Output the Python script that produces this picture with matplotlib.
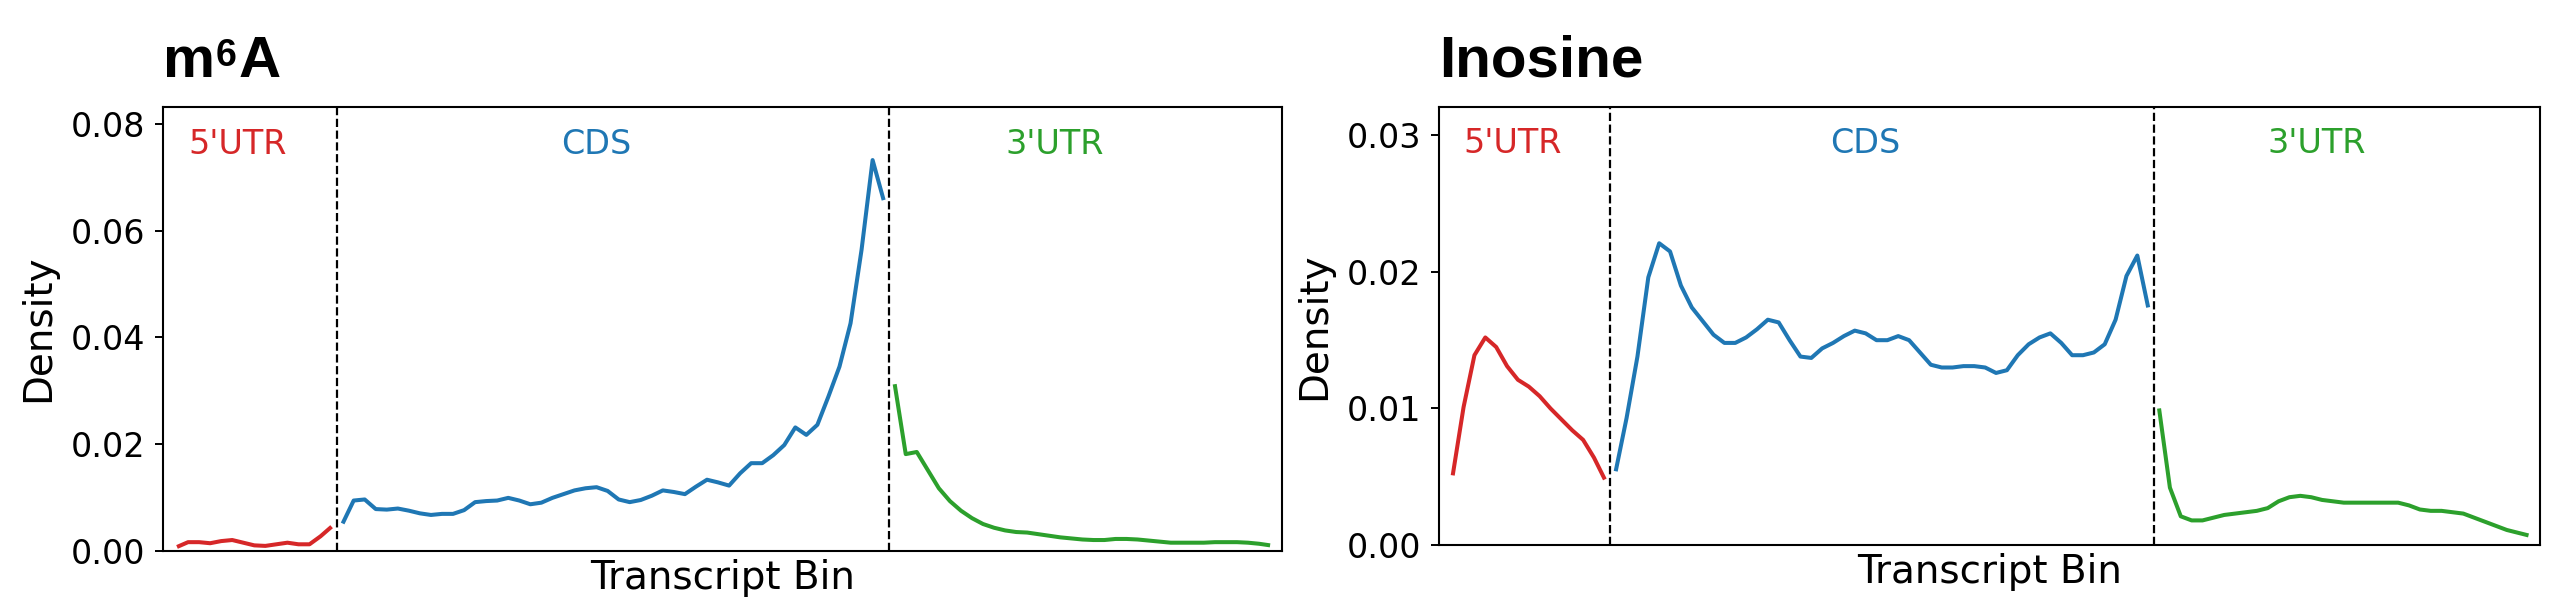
import numpy as np
import matplotlib
matplotlib.use("Agg")
import matplotlib.pyplot as plt

# metagene density, 100 bins: 15 x 5'UTR, 50 x CDS, 35 x 3'UTR
n_utr5, n_cds, n_utr3 = 15, 50, 35

m6a_utr5 = [0.0007, 0.0016, 0.0016, 0.0014, 0.0018, 0.0020, 0.0015, 0.0010,
            0.0009, 0.0012, 0.0015, 0.0012, 0.0012, 0.0027, 0.0045]
m6a_cds = [0.0051, 0.0094, 0.0096, 0.0078, 0.0077, 0.0079, 0.0075, 0.0070, 0.0067, 0.0069,
           0.0069, 0.0076, 0.0091, 0.0093, 0.0094, 0.0099, 0.0094, 0.0087, 0.0090, 0.0099,
           0.0106, 0.0113, 0.0117, 0.0119, 0.0112, 0.0096, 0.0091, 0.0095, 0.0103, 0.0113,
           0.0110, 0.0106, 0.0120, 0.0133, 0.0128, 0.0122, 0.0145, 0.0164, 0.0164, 0.0179,
           0.0198, 0.0231, 0.0217, 0.0236, 0.0289, 0.0345, 0.0426, 0.0564, 0.0732, 0.0657]
m6a_utr3 = [0.0312, 0.0181, 0.0185, 0.0151, 0.0117, 0.0093, 0.0075, 0.0061, 0.0050, 0.0043,
            0.0038, 0.0035, 0.0034, 0.0031, 0.0028, 0.0025, 0.0023, 0.0021, 0.0020, 0.0020,
            0.0022, 0.0022, 0.0021, 0.0019, 0.0017, 0.0015, 0.0015, 0.0015, 0.0015, 0.0016,
            0.0016, 0.0016, 0.0015, 0.0013, 0.0010]

ino_utr5 = [0.0051, 0.0101, 0.0139, 0.0152, 0.0145, 0.0131, 0.0121, 0.0116,
            0.0109, 0.0100, 0.0092, 0.0084, 0.0077, 0.0064, 0.0048]
ino_cds = [0.0054, 0.0093, 0.0138, 0.0196, 0.0221, 0.0215, 0.0190, 0.0174, 0.0164, 0.0154,
           0.0148, 0.0148, 0.0152, 0.0158, 0.0165, 0.0163, 0.0150, 0.0138, 0.0137, 0.0144,
           0.0148, 0.0153, 0.0157, 0.0155, 0.0150, 0.0150, 0.0153, 0.0150, 0.0141, 0.0132,
           0.0130, 0.0130, 0.0131, 0.0131, 0.0130, 0.0126, 0.0128, 0.0139, 0.0147, 0.0152,
           0.0155, 0.0148, 0.0139, 0.0139, 0.0141, 0.0147, 0.0165, 0.0197, 0.0212, 0.0174]
ino_utr3 = [0.0100, 0.0042, 0.0021, 0.0018, 0.0018, 0.0020, 0.0022, 0.0023, 0.0024, 0.0025,
            0.0027, 0.0032, 0.0035, 0.0036, 0.0035, 0.0033, 0.0032, 0.0031, 0.0031, 0.0031,
            0.0031, 0.0031, 0.0031, 0.0029, 0.0026, 0.0025, 0.0025, 0.0024, 0.0023, 0.0020,
            0.0017, 0.0014, 0.0011, 0.0009, 0.0007]

region_names = ["5'UTR", "CDS", "3'UTR"]
region_colors = ["#d62728", "#1f77b4", "#2ca02c"]

m6a_yticks = [0.00, 0.02, 0.04, 0.06, 0.08]
ino_yticks = [0.00, 0.01, 0.02, 0.03]

plt.rcParams["font.family"] = ["DejaVu Sans"]
TITLE_FONT = "Liberation Sans"


def draw_panel(ax, segments, yticks, ymax):
    x_utr5 = np.arange(n_utr5)
    x_cds = np.arange(n_utr5, n_utr5 + n_cds)
    x_utr3 = np.arange(n_utr5 + n_cds, n_utr5 + n_cds + n_utr3)
    for xs, ys, color in zip([x_utr5, x_cds, x_utr3], segments, region_colors):
        ax.plot(xs, ys, color=color, lw=2.9, solid_capstyle="butt")
    for b in [n_utr5 - 0.5, n_utr5 + n_cds - 0.5]:
        ax.axvline(b, color="black", ls="--", lw=1.6)
    # region labels
    label_x = [5.5, 38.0, 79.5]
    for lx, name, color in zip(label_x, region_names, region_colors):
        ax.text(lx, 0.915, name, color=color, fontsize=24, ha="center", va="center",
                transform=ax.get_xaxis_transform())
    ax.set_xlim(-1.24, 100.06)
    ax.set_ylim(0, ymax)
    ax.set_xticks([])
    ax.set_yticks(yticks)
    ax.set_yticklabels([f"{t:.2f}" for t in yticks])
    ax.tick_params(axis="y", labelsize=24, length=6, width=1.4, pad=7)
    ax.set_xlabel("Transcript Bin", fontsize=28, labelpad=6)
    ax.set_ylabel("Density", fontsize=28, labelpad=10)
    for s in ax.spines.values():
        s.set_linewidth(1.5)


fig = plt.figure(figsize=(25.6, 6.14), dpi=100)
ax1 = fig.add_axes([0.0638, 0.1031, 0.4369, 0.7231])
ax2 = fig.add_axes([0.5622, 0.1124, 0.4300, 0.7138])

draw_panel(ax1, [m6a_utr5, m6a_cds, m6a_utr3], m6a_yticks, 0.0832)
draw_panel(ax2, [ino_utr5, ino_cds, ino_utr3], ino_yticks, 0.0321)

# panel titles (bold, Arial-like); m6A built from pieces for the superscript
title_kw = dict(fontfamily=TITLE_FONT, fontweight="bold", fontsize=42)
t_m = ax1.annotate("m", xy=(0, 1), xycoords="axes fraction", xytext=(0, 21.5),
                   textcoords="offset points", va="baseline", ha="left", **title_kw)
t_6 = ax1.annotate("6", xy=(1, 0), xycoords=(t_m, t_m), xytext=(0.5, 10.5),
                   textcoords="offset points", va="bottom", ha="left",
                   fontfamily=TITLE_FONT, fontweight="bold", fontsize=27)
ax1.annotate("A", xy=(1, 0), xycoords=(t_6, t_m), xytext=(1.5, 0),
             textcoords="offset points", va="bottom", ha="left", **title_kw)
ax2.annotate("Inosine", xy=(0, 1), xycoords="axes fraction", xytext=(0, 22),
             textcoords="offset points", va="baseline", ha="left", **title_kw)

fig.savefig("out.png", dpi=100)
plt.close(fig)
